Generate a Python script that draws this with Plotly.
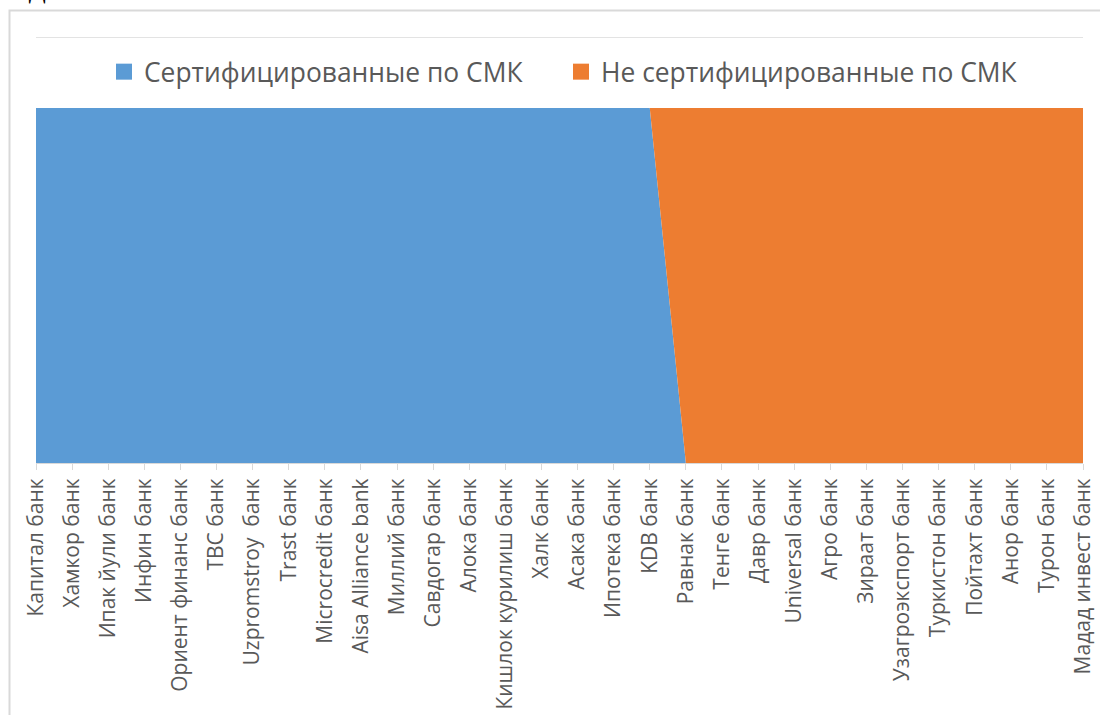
import plotly.graph_objects as go

banks = ["Капитал банк", "Хамкор банк", "Ипак йули банк", "Инфин банк", "Ориент финанс банк",
         "ТВС банк", "Uzpromstroy  банк", "Trast банк", "Microcredit банк", "Aisa Alliance bank",
         "Миллий банк", "Савдогар банк", "Алока банк", "Кишлок курилиш банк", "Халк банк",
         "Асака банк", "Ипотека банк", "KDB банк", "Равнак банк", "Тенге банк",
         "Давр банк", "Universal банк", "Агро банк", "Зираат банк", "Узагроэкспорт банк",
         "Туркистон банк", "Пойтахт банк", "Анор банк", "Турон банк", "Мадад инвест банк"]
certified = [1]*18 + [0]*12
not_certified = [0]*18 + [1]*12

series_names = ["Сертифицированные по СМК", "Не сертифицированные по СМК"]
colors = ["#5B9BD5", "#ED7D31"]

W, H = 1100, 715
L, R, T, B = 36, 1083, 108, 463

def px(x):
    return (x - L) / (R - L)

def py(y):
    return (B - y) / (B - T)

fig = go.Figure()
for name, vals, c in zip(series_names, [certified, not_certified], colors):
    fig.add_trace(go.Scatter(x=banks, y=vals, stackgroup="one", mode="none",
                             fillcolor=c, name=name, showlegend=False, hoverinfo="x+y"))
for name, c in zip(series_names, colors):
    fig.add_trace(go.Scatter(x=[None], y=[None], mode="markers", name=name,
                             marker=dict(symbol="square", size=17, color=c)))

fig.update_layout(
    width=W, height=H,
    margin=dict(l=L, r=W - R, t=T, b=H - B, autoexpand=False),
    paper_bgcolor="white", plot_bgcolor="white",
    font=dict(family="Open Sans", color="#595959"),
    legend=dict(orientation="h", x=px(104), xanchor="left", y=py(72), yanchor="middle",
                font=dict(size=26.4, color="#595959"), itemwidth=30, tracegroupgap=0,
                traceorder="normal", entrywidth=412, entrywidthmode="pixels"),
    xaxis=dict(type="category", range=[0, len(banks) - 1], showgrid=False, automargin=False,
               showline=True, linecolor="#D9D9D9", linewidth=1,
               ticks="outside", ticklen=6, tickcolor="#D9D9D9", tickangle=-90,
               tickfont=dict(size=21, color="#595959"), fixedrange=True),
    yaxis=dict(range=[0, 1], showgrid=False, showticklabels=False, zeroline=False,
               fixedrange=True, automargin=False),
    shapes=[
        dict(type="line", xref="paper", yref="paper", x0=0, x1=1, y0=py(37.5), y1=py(37.5),
             line=dict(color="#E3E3E3", width=1)),
        dict(type="rect", xref="paper", yref="paper", x0=px(9.5), x1=px(1110), y0=py(10.5), y1=py(730),
             line=dict(color="#D9D9D9", width=2), layer="below"),
    ],
    annotations=[
        dict(text="и дальности.", xref="paper", yref="paper", x=px(0), y=py(6), xanchor="left",
             yanchor="bottom", showarrow=False,
             font=dict(family="Liberation Serif", size=34, color="black")),
    ],
)

fig.write_html("out.html", config={"displayModeBar": False},
               post_script="document.body.style.margin='0';")
